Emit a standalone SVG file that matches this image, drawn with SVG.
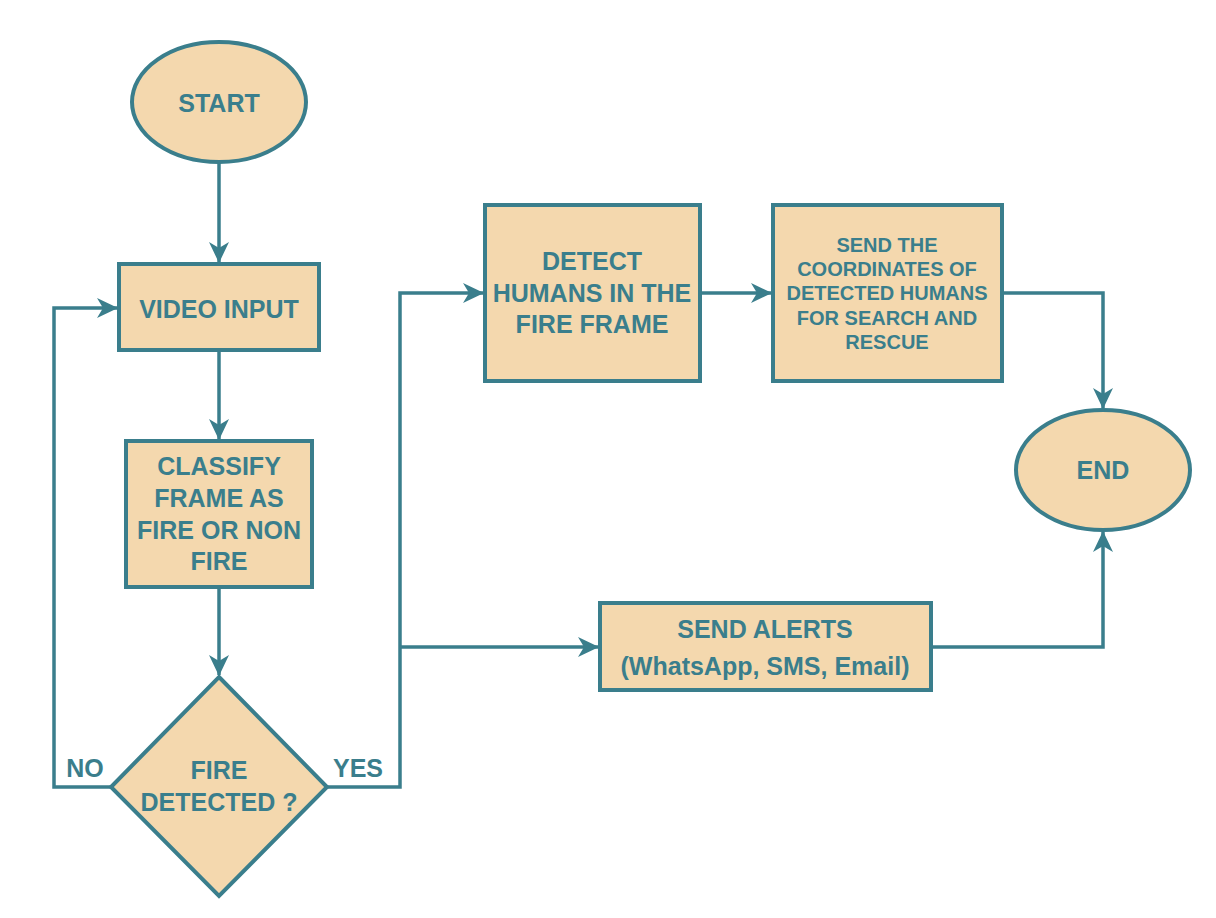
<svg xmlns="http://www.w3.org/2000/svg" width="1216" height="918" viewBox="0 0 1216 918">
<defs>
<style>
.shape{fill:#F4D8AE;stroke:#3A7E8C;stroke-width:4}
.edge{fill:none;stroke:#3A7E8C;stroke-width:3.5}
.t{font-family:"Liberation Sans",Arial,sans-serif;font-weight:bold;fill:#3A7E8C;text-anchor:middle;font-size:25px}
.s{font-size:20px}
</style>
<marker id="arr" markerUnits="userSpaceOnUse" markerWidth="22" markerHeight="22" refX="20" refY="11" orient="auto">
<path d="M0,1 L21,11 L0,21 L6,11 z" fill="#3A7E8C"/>
</marker>
</defs>
<rect width="1216" height="918" fill="#ffffff"/>
<g id="connectors">
<path class="edge" d="M219,162 V262" marker-end="url(#arr)"/>
<path class="edge" d="M219,352 V439" marker-end="url(#arr)"/>
<path class="edge" d="M219,589 V675" marker-end="url(#arr)"/>
<path class="edge" d="M111,787 H54 V308 H117" marker-end="url(#arr)"/>
<path class="edge" d="M327,787 H400 V293 H483" marker-end="url(#arr)"/>
<path class="edge" d="M400,647 H598" marker-end="url(#arr)"/>
<path class="edge" d="M702,293 H771" marker-end="url(#arr)"/>
<path class="edge" d="M1004,293 H1103 V408" marker-end="url(#arr)"/>
<path class="edge" d="M933,647 H1103 V532" marker-end="url(#arr)"/>
<text class="t" x="85" y="777">NO</text>
<text class="t" x="358" y="777">YES</text>
</g>
<g id="start">
<ellipse class="shape" cx="219" cy="102" rx="87" ry="60"/>
<text class="t" x="219" y="112">START</text>
</g>
<g id="video-input">
<rect class="shape" x="119" y="264" width="200" height="86"/>
<text class="t" x="219" y="318">VIDEO INPUT</text>
</g>
<g id="classify">
<rect class="shape" x="126" y="441" width="186" height="146"/>
<text class="t" x="219" y="475">CLASSIFY</text>
<text class="t" x="219" y="507">FRAME AS</text>
<text class="t" x="219" y="539">FIRE OR NON</text>
<text class="t" x="219" y="570">FIRE</text>
</g>
<g id="fire-detected">
<polygon class="shape" points="219,677 327,787 219,896 111,787"/>
<text class="t" x="219" y="779">FIRE</text>
<text class="t" x="219" y="811">DETECTED ?</text>
</g>
<g id="detect-humans">
<rect class="shape" x="485" y="205" width="215" height="176"/>
<text class="t" x="592" y="270">DETECT</text>
<text class="t" x="592" y="302">HUMANS IN THE</text>
<text class="t" x="592" y="333">FIRE FRAME</text>
</g>
<g id="send-coordinates">
<rect class="shape" x="773" y="205" width="229" height="176"/>
<text class="t s" x="887" y="252">SEND THE</text>
<text class="t s" x="887" y="276">COORDINATES OF</text>
<text class="t s" x="887" y="300">DETECTED HUMANS</text>
<text class="t s" x="887" y="325">FOR SEARCH AND</text>
<text class="t s" x="887" y="349">RESCUE</text>
</g>
<g id="end">
<ellipse class="shape" cx="1103" cy="470" rx="87" ry="60"/>
<text class="t" x="1103" y="479">END</text>
</g>
<g id="send-alerts">
<rect class="shape" x="600" y="603" width="331" height="87"/>
<text class="t" x="765" y="638">SEND ALERTS</text>
<text class="t" x="765" y="675">(WhatsApp, SMS, Email)</text>
</g>
</svg>
